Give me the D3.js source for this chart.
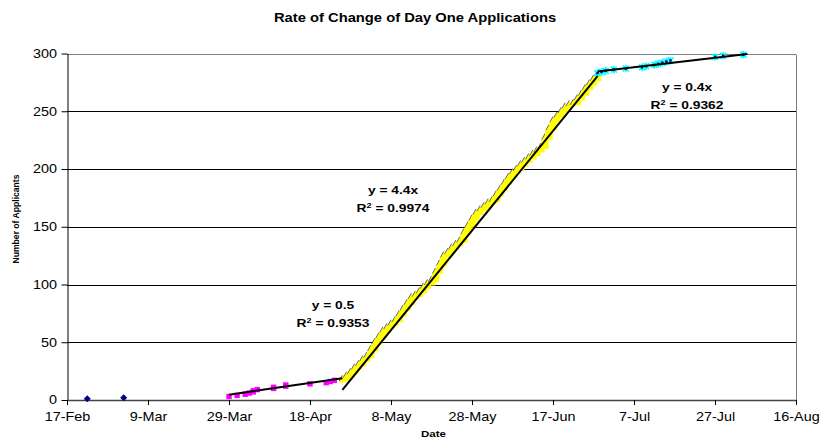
<!DOCTYPE html>
<html><head><meta charset="utf-8">
<script src="https://cdn.jsdelivr.net/npm/d3@7"></script>
<style>body{margin:0;background:#fff} svg{display:block} text{font-family:"Liberation Sans",Arial,sans-serif}</style>
</head><body><svg id="c" width="831" height="440"></svg>
<script>
const chartTitle = "Rate of Change of Day One Applications";
const xTitle = "Date";
const yTitle = "Number of Applicants";
const year = 2009;
const xTickLabels = ["17-Feb","9-Mar","29-Mar","18-Apr","8-May","28-May","17-Jun","7-Jul","27-Jul","16-Aug"];
const yTickValues = [0,50,100,150,200,250,300];

const navyDates = ["22-Feb","3-Mar"];
const navyValues = [1,2];

const magentaDates = ["29-Mar","31-Mar","2-Apr","3-Apr","4-Apr","4-Apr","5-Apr","9-Apr","9-Apr","12-Apr","12-Apr","18-Apr","22-Apr","23-Apr","24-Apr"];
const magentaValues = [3,4,5,6,7,8,9,10,11,12,13,14,15,16,17];

const yellowDates = ["26-Apr","27-Apr","28-Apr","29-Apr","30-Apr",
 "1-May","2-May","3-May","4-May","5-May","6-May","7-May","8-May","9-May","10-May","11-May","12-May","13-May","14-May","15-May","16-May","17-May","18-May","19-May","20-May","21-May","22-May","23-May","24-May","25-May","26-May","27-May","28-May","29-May","30-May","31-May",
 "1-Jun","2-Jun","3-Jun","4-Jun","5-Jun","6-Jun","7-Jun","8-Jun","9-Jun","10-Jun","11-Jun","12-Jun","13-Jun","14-Jun","15-Jun","16-Jun","17-Jun","18-Jun","19-Jun","20-Jun","21-Jun","22-Jun","23-Jun","24-Jun","25-Jun","26-Jun","27-Jun","28-Jun"];
const yellowCumulative = [18,21,24,28,31,35,38,44,50,55,60,63,66,69,74,79,84,89,91,94,98,101,104,111,118,125,128,132,135,138,145,151,157,162,165,168,171,173,178,183,188,193,197,200,204,207,210,213,216,219,227,235,242,246,250,254,256,257,261,265,270,274,278,282];
const yellowPriorTotal = 17;

const cyanDates = ["28-Jun","29-Jun","30-Jun","2-Jul","5-Jul","9-Jul","10-Jul","12-Jul","13-Jul","14-Jul","15-Jul","16-Jul","27-Jul","29-Jul","3-Aug"];
const cyanValues = [283,284,285,286,287,288,289,290,291,292,293,294,297,298,299];

const trendStartDates = ["29-Mar","26-Apr","28-Jun"];
const trendStartValues = [4.6, 8.7, 284.5];
const trendEndDates = ["26-Apr","28-Jun","4-Aug"];
const trendEndValues = [18.8, 280.4, 299.5];
const trendEquations = ["y = 0.5","y = 4.4x","y = 0.4x"];
const trendR2 = ["0.9353","0.9974","0.9362"];

const parse = d3.timeParse("%d-%b-%Y");
const dt = s => parse(s + "-" + year);

const svg = d3.select("#c");
const L = 67, R = 796, T = 53.5, B = 400;
const SX = 1.2; // horizontal stretch of text in the reference
const x = d3.scaleTime().domain([dt(xTickLabels[0]), dt(xTickLabels[xTickLabels.length-1])]).range([L, R]);
const y = d3.scaleLinear().domain([0, 300]).range([B, T]);

// gridlines
svg.append("g").selectAll("line").data(yTickValues.filter(v => v > 0)).join("line")
  .attr("x1", L).attr("x2", R).attr("y1", d => Math.round(y(d)) + 0.5).attr("y2", d => Math.round(y(d)) + 0.5)
  .attr("stroke", d => d === 300 ? "#808080" : "#000").attr("stroke-width", 1);
// right border
svg.append("line").attr("x1", R + 0.5).attr("x2", R + 0.5).attr("y1", Math.round(T) + 0.5).attr("y2", B)
  .attr("stroke", "#808080");

// axes
const yAxis = svg.append("g").attr("transform", `translate(${L + 0.5},0)`)
  .call(d3.axisLeft(y).tickValues(yTickValues).tickSize(6).tickSizeOuter(0));
yAxis.select(".domain").attr("stroke", "#000");
yAxis.selectAll(".tick line").attr("stroke", "#000");
yAxis.selectAll(".tick text").attr("x", -10.5 / SX).attr("transform", `scale(${SX},1)`)
  .attr("font-size", 12).attr("fill", "#000").attr("font-family", "Liberation Sans, Arial, sans-serif");

const xAxis = svg.append("g").attr("transform", `translate(0,${B})`)
  .call(d3.axisBottom(x).tickValues(xTickLabels.map(dt)).tickFormat(d3.timeFormat("%-d-%b")).tickSize(5).tickSizeOuter(0));
xAxis.select(".domain").attr("stroke", "#444").attr("stroke-width", 1.5);
xAxis.selectAll(".tick line").attr("stroke", "#000");
xAxis.selectAll(".tick text").attr("y", 12.5).attr("transform", `scale(${SX},1)`)
  .attr("font-size", 12).attr("fill", "#000").attr("font-family", "Liberation Sans, Arial, sans-serif");

// markers
const gm = svg.append("g");
// navy diamonds
gm.selectAll(".nv").data(navyDates.map((d, i) => [dt(d), navyValues[i]])).join("path")
  .attr("transform", d => `translate(${x(d[0])},${y(d[1])})`)
  .attr("d", "M0,-3.5L3.5,0L0,3.5L-3.5,0Z").attr("fill", "#000080");
// magenta squares
gm.selectAll(".mg").data(magentaDates.map((d, i) => [dt(d), magentaValues[i]])).join("rect")
  .attr("x", d => x(d[0]) - 2.7).attr("y", d => y(d[1]) - 2.7).attr("width", 5.4).attr("height", 5.4)
  .attr("fill", "#FF00FF");
// yellow triangles: one per applicant, stacked per day
const yellowPts = [];
yellowDates.forEach((d, i) => {
  const prev = i === 0 ? yellowPriorTotal : yellowCumulative[i - 1];
  for (let v = prev + 1; v <= yellowCumulative[i]; v++) yellowPts.push([dt(d), v, v === yellowCumulative[i]]);
});
const tri = gm.selectAll(".yl").data(yellowPts).join("g")
  .attr("transform", d => `translate(${x(d[0])},${y(d[1])})`);
tri.append("path").attr("d", "M0,-4L4,3.2L-4,3.2Z").attr("fill", "#FFFF00");
tri.filter(d => d[2]).append("path").attr("d", "M-3.2,1.8L0,-4")
  .attr("stroke", "#000080").attr("stroke-width", 0.6).attr("fill", "none");
// cyan stars
const st = gm.selectAll(".cy").data(cyanDates.map((d, i) => [dt(d), cyanValues[i]])).join("g")
  .attr("transform", d => `translate(${x(d[0])},${y(d[1])})`);
st.append("path").attr("d", "M-3,-3L3,3M-3,3L3,-3M0,-3.8L0,3.8").attr("stroke", "#00FFFF").attr("stroke-width", 1.6);
st.append("rect").attr("x", -1.2).attr("y", -1.2).attr("width", 2.4).attr("height", 2.4).attr("fill", "#000080");

// trend lines
svg.append("g").selectAll("line").data(trendStartDates.map((d, i) => i)).join("line")
  .attr("x1", i => x(dt(trendStartDates[i]))).attr("y1", i => y(trendStartValues[i]))
  .attr("x2", i => x(dt(trendEndDates[i]))).attr("y2", i => y(trendEndValues[i]))
  .attr("stroke", "#000").attr("stroke-width", 2);

// text helper with horizontal stretch
function stretchedText(cx, cy, size, weight) {
  return svg.append("g").attr("transform", `translate(${cx},${cy}) scale(${SX},1)`)
    .append("text").attr("text-anchor", "middle").attr("font-size", size).attr("font-weight", weight).attr("fill", "#000");
}
stretchedText(415, 21.5, 12.3, "bold").text(chartTitle);
stretchedText(433.5, 437, 9.6, "bold").text(xTitle);
svg.append("text").attr("transform", "translate(19,219) rotate(-90)").attr("text-anchor", "middle")
  .attr("font-size", 8.6).attr("font-weight", "bold").text(yTitle);

// trend labels
const eqPos = [[333, 309], [393, 194], [687, 91]];
eqPos.forEach((p, i) => {
  stretchedText(p[0], p[1], 11.5, "bold").text(trendEquations[i]);
  const t = stretchedText(p[0], p[1] + 18, 11.5, "bold");
  t.append("tspan").text("R");
  t.append("tspan").attr("font-size", 7.5).attr("dy", -4.5).text("2");
  t.append("tspan").attr("dy", 4.5).text(" = " + trendR2[i]);
});
</script></body></html>
